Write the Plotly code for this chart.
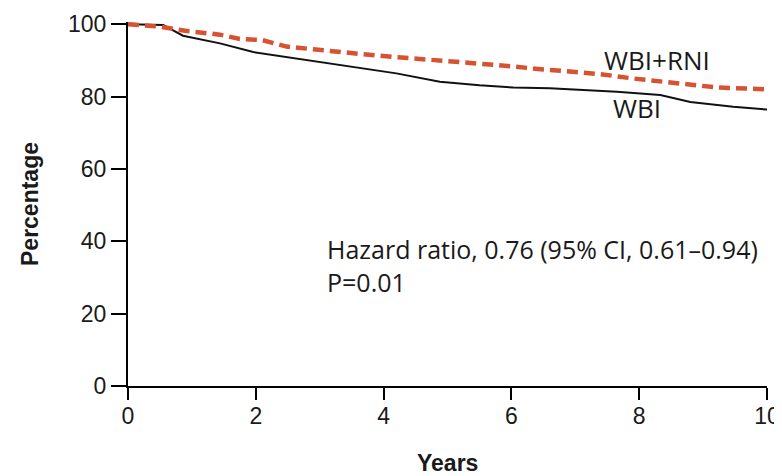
import plotly.graph_objects as go

# Years and survival (%)
t_wbi = [0, 0.55, 0.86, 1.44, 1.96, 2.38, 2.8, 3.27, 3.7, 4.2, 4.88, 5.5, 6.03, 6.6, 7.65, 8.33, 8.8, 9.47, 10]
s_wbi = [100, 99.8, 96.8, 94.7, 92.3, 91.2, 90.0, 88.7, 87.6, 86.4, 84.1, 83.1, 82.5, 82.3, 81.3, 80.4, 78.5, 77.2, 76.4]

t_rni = [0, 0.5, 0.92, 1.44, 1.75, 2.1, 2.48, 3.0, 3.68, 4.2, 4.73, 5.25, 5.77, 6.5, 7.39, 7.9, 8.69, 9.22, 10]
s_rni = [100, 99.3, 98.1, 97.1, 95.9, 95.6, 93.8, 92.8, 91.7, 90.9, 90.2, 89.4, 88.7, 87.5, 86.2, 85.0, 83.6, 82.5, 82.0]

x_ticks = [0, 2, 4, 6, 8, 10]
y_ticks = [0, 20, 40, 60, 80, 100]

RED = "#D65230"
TXT = "#1a1a1a"
TICKFONT = dict(family="Liberation Sans", size=23, color=TXT)

fig = go.Figure()
fig.add_trace(go.Scatter(x=t_wbi, y=s_wbi, mode="lines", name="WBI",
                         line=dict(color="#111111", width=2)))
fig.add_trace(go.Scatter(x=t_rni, y=s_rni, mode="lines", name="WBI+RNI",
                         line=dict(color=RED, width=4.5, dash="11px,6px")))

fig.add_annotation(x=8.28, y=90.1, text="WBI+RNI", showarrow=False,
                   font=dict(family="Open Sans", size=26, color=TXT))
fig.add_annotation(x=7.97, y=76.9, text="WBI", showarrow=False,
                   font=dict(family="Open Sans", size=26, color=TXT))
fig.add_annotation(x=3.08, y=33.3, xanchor="left", yanchor="middle", align="left",
                   text="Hazard ratio, 0.76 (95% CI, 0.61\u20130.94)<br>P=0.01",
                   showarrow=False,
                   font=dict(family="Open Sans", size=25, color=TXT))

# axis titles
fig.add_annotation(xref="paper", yref="paper", x=0, y=0.5, xshift=-98, textangle=-90,
                   xanchor="center", yanchor="middle",
                   text="<b>Percentage</b>", showarrow=False,
                   font=dict(family="Liberation Sans", size=23, color=TXT))
fig.add_annotation(xref="paper", yref="paper", x=0.5, y=0, yshift=-77,
                   xanchor="center", yanchor="middle",
                   text="<b>Years</b>", showarrow=False,
                   font=dict(family="Liberation Sans", size=23, color=TXT))

# the page body adds an 8px offset, so the figure margins compensate for it
fig.update_layout(
    width=782, height=476,
    margin=dict(l=120, r=23, t=14, b=98, autoexpand=False),
    paper_bgcolor="white", plot_bgcolor="white",
    showlegend=False,
    xaxis=dict(range=[0, 10], tickvals=x_ticks, ticks="outside", ticklen=12, tickwidth=2,
               tickcolor="black", showline=True, linewidth=2, linecolor="black",
               showgrid=False, zeroline=False, automargin=False, tickfont=TICKFONT,
               ticklabelstandoff=-4),
    yaxis=dict(range=[0, 100.6], tickvals=y_ticks, ticks="outside", ticklen=15, tickwidth=2,
               tickcolor="black", showline=True, linewidth=2, linecolor="black",
               showgrid=False, zeroline=False, automargin=False, tickfont=TICKFONT),
)

fig.write_html("out.html")
